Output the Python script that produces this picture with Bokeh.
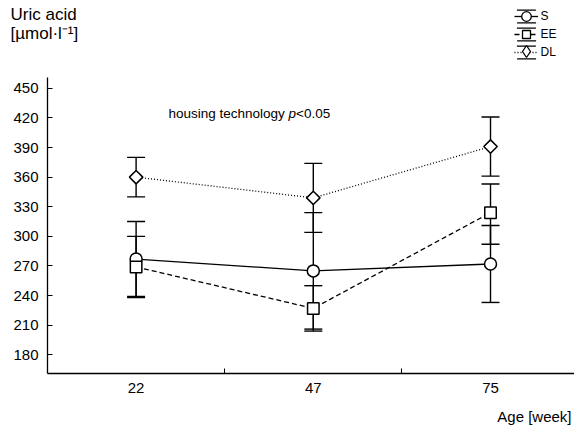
import math
from bokeh.plotting import figure
from bokeh.models import (ColumnDataSource, FixedTicker, Label, Legend,
                          LegendItem, Range1d)
from bokeh.embed import file_html
from bokeh.resources import INLINE

# ---------------- data ----------------
ages = ["22", "47", "75"]
series_names = ["S", "EE", "DL"]
s_mean = [277, 265, 272]
s_lower = [239, 206, 233]
s_upper = [315, 324, 311]
ee_mean = [269, 227, 324]
ee_lower = [238, 204, 292]
ee_upper = [300, 250, 353]
dl_mean = [360, 339, 391]
dl_lower = [340, 304, 361]
dl_upper = [380, 374, 421]
y_ticks = [180, 210, 240, 270, 300, 330, 360, 390, 420, 450]

FONT = "Liberation Sans"
W, H = 574, 429
# plot-area geometry in canvas pixels
PL, PR, PT, PB = 47, 574, 77, 373
X0, X1 = -0.5, 2.474      # axis extent (x)
Y0, Y1 = 161, 461         # axis extent (y)
sxu = (PR - PL) / (X1 - X0)
syu = (PB - PT) / (Y1 - Y0)
x_pos = list(range(len(ages)))

styles = [
    dict(dash="solid", marker="circle", size=12, angle=0, leg_marker="circle", leg_box=24),
    dict(dash="5 3", marker="square", size=11.5, angle=0, leg_marker="square", leg_box=20),
    dict(dash="1 2", marker="square", size=9.5, angle=math.pi / 4, leg_marker="diamond", leg_box=30),
]
means = [s_mean, ee_mean, dl_mean]
lowers = [s_lower, ee_lower, dl_lower]
uppers = [s_upper, ee_upper, dl_upper]

p = figure(width=W, height=H, output_backend="svg", toolbar_location=None,
           x_range=Range1d(X0 - PL / sxu, X1 + (W - PR) / sxu),
           y_range=Range1d(Y0 - (H - PB) / syu, Y1 + PT / syu),
           min_border_left=0, min_border_right=0,
           min_border_top=0, min_border_bottom=0)
# range used only by legend-swatch renderers so that they stay off the canvas
p.extra_x_ranges = {"legend_only": Range1d(start=-1000, end=-999)}
p.xgrid.visible = False
p.ygrid.visible = False
p.outline_line_color = None
p.background_fill_color = "white"
p.border_fill_color = "white"

xa = p.xaxis[0]
xa.fixed_location = Y0
xa.bounds = (X0, X1)
xa.ticker = FixedTicker(ticks=x_pos, minor_ticks=[i + 0.5 for i in x_pos[:-1]])
xa.major_label_overrides = {i: a for i, a in zip(x_pos, ages)}
xa.major_tick_line_color = None
xa.major_tick_in = 0
xa.major_tick_out = 0
xa.minor_tick_in = 5
xa.minor_tick_out = 0
xa.minor_tick_line_color = "black"
xa.minor_tick_line_width = 1
xa.axis_line_color = "black"
xa.axis_line_width = 1.3
xa.major_label_text_font = FONT
xa.major_label_text_font_size = "15px"
xa.major_label_text_color = "black"
xa.major_label_standoff = 9

ya = p.yaxis[0]
ya.fixed_location = X0
ya.bounds = (Y0, Y1)
ya.ticker = FixedTicker(ticks=y_ticks, minor_ticks=[])
ya.major_tick_in = 5
ya.major_tick_out = 0
ya.minor_tick_in = 0
ya.minor_tick_out = 0
ya.major_tick_line_color = "black"
ya.major_tick_line_width = 1
ya.axis_line_color = "black"
ya.axis_line_width = 1.3
ya.major_label_text_font = FONT
ya.major_label_text_font_size = "15px"
ya.major_label_text_color = "black"
ya.major_label_standoff = 9

sources = [ColumnDataSource(dict(x=x_pos, mean=m, lower=lo, upper=up))
           for m, lo, up in zip(means, lowers, uppers)]

for src in sources:
    p.segment(x0="x", y0="lower", x1="x", y1="upper", source=src,
              line_color="black", line_width=1.4)
    p.scatter(x="x", y="lower", source=src, marker="dash", size=18,
              line_color="black", line_width=1.4)
    p.scatter(x="x", y="upper", source=src, marker="dash", size=18,
              line_color="black", line_width=1.4)

line_rs = []
for st, src in zip(styles, sources):
    line_rs.append(p.line(x="x", y="mean", source=src, line_color="black",
                          line_width=1.3, line_dash=st["dash"]))

for st, src in zip(styles, sources):
    p.scatter(x="x", y="mean", source=src, marker=st["marker"], size=st["size"],
              angle=st["angle"], fill_color="white", line_color="black",
              line_width=1.5)

# ---------------- legend ----------------
caps_r = p.rect(x="x", y="mean", width=0, height=0, source=sources[0],
                x_range_name="legend_only", fill_color=None,
                line_color="black", line_width=1.3, line_dash="19 13")
leg = Legend(items=[LegendItem(label=n, renderers=[caps_r, lr])
                    for n, lr in zip(series_names, line_rs)],
             location=(513.5, H - 59.5), glyph_width=24, glyph_height=16,
             label_height=16, spacing=2, padding=0, margin=0,
             label_standoff=3, label_text_font=FONT,
             label_text_font_size="12px", label_text_color="black",
             border_line_color=None, background_fill_alpha=0)
p.add_layout(leg)

row_centres = [15.5, 33.5, 51.0]
for st, cy, src in zip(styles, row_centres, sources):
    box = st["leg_box"]
    r = p.scatter(x="x", y="mean", source=src, x_range_name="legend_only",
                  marker=st["leg_marker"], fill_color="white",
                  line_color="black", line_width=1.3)
    lg = Legend(items=[LegendItem(label="", renderers=[r])],
                location=(525.5 - box / 2, H - (cy + box / 2)),
                glyph_width=box, glyph_height=box, label_height=box,
                spacing=0, padding=0, margin=0, label_standoff=0,
                label_text_font_size="1px",
                border_line_color=None, background_fill_alpha=0)
    p.add_layout(lg)

# ---------------- texts ----------------
BASE_FIX = 6


def add_label(text, x, baseline, size, align="left", style="normal"):
    p.add_layout(Label(x=x, y=H - baseline + BASE_FIX, x_units="screen",
                       y_units="screen", text=text, text_font=FONT,
                       text_font_size=size, text_color="black",
                       text_align=align, text_baseline="alphabetic",
                       text_font_style=style))


add_label("Uric acid", 10, 20, "17px")
add_label("[µmol·l⁻¹]", 10, 39, "17px")
add_label("housing technology", 168, 119, "13.5px")
add_label("p", 288, 119, "13.5px", style="italic")
add_label("<0.05", 295.5, 119, "13.5px")
add_label("Age [week]", 571, 422, "15px", align="right")

open("out.html", "w").write(file_html(p, INLINE))
